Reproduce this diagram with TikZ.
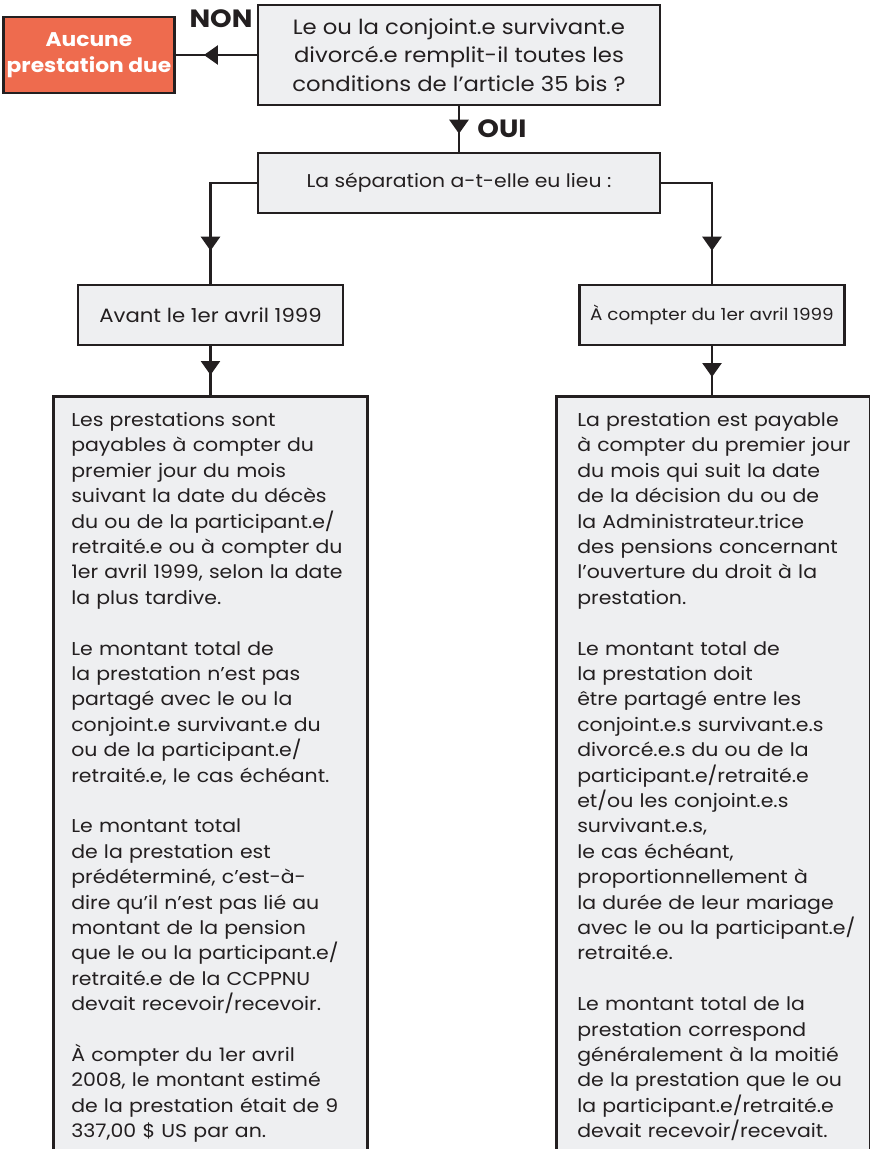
\documentclass[tikz,border=0pt]{standalone}
\usepackage{fontspec}
\setmainfont{Poppins}[FakeStretch=1.1]
\usepackage{tikz}
\usetikzlibrary{shapes.geometric, arrows.meta, decorations.markings}

\definecolor{boxgray}{HTML}{EEEFF1}
\definecolor{boxline}{HTML}{231F20}
\definecolor{nored}{HTML}{EE6B4E}

\tikzstyle{question} = [rectangle, minimum width=402pt, minimum height=100pt, align=center, draw=boxline, fill=boxgray, line width=2.6pt, text=boxline, font=\fontsize{20.7}{28.3}\selectfont]
\tikzstyle{choice} = [rectangle, minimum width=265pt, minimum height=60pt, align=center, draw=boxline, fill=boxgray, line width=2.6pt, text=boxline, font=\fontsize{19.3}{24}\selectfont]
\tikzstyle{result} = [rectangle, minimum width=170pt, minimum height=76pt, align=center, draw=boxline, fill=nored, line width=2.6pt, text=white, font=\fontsize{19.8}{26}\selectfont\bfseries]
\tikzstyle{answer} = [text=boxline, font=\fontsize{25}{25}\selectfont\bfseries]

\tikzset{
  detail/.style={
    rectangle,
    anchor=north west,
    text width=314pt,
    inner xsep=0pt,
    inner ysep=16pt,
    align=left,
    draw=boxline,
    fill=boxgray,
    line width=2.6pt,
    text=boxline,
    font=\fontsize{18.6}{25.4}\selectfont
    },
  arrow/.style={line width=2.6pt, draw=boxline},
  midarrow/.style={
    postaction=decorate,
    decoration={markings,
      mark=at position #1 with {\arrow{Triangle[width=19pt,length=14pt]}}}
    },
}

\begin{document}
\begin{tikzpicture}[x=1pt, y=-1pt]
\useasboundingbox (0,0) rectangle (870,1149);
\clip (0,0) rectangle (870,1149);

\node (cond) [question] at (459,55) {Le ou la conjoint.e survivant.e\\divorcé.e remplit-il toutes les\\conditions de l’article 35 bis ?};
\node (none) [result] at (89,55) {Aucune\\prestation due};
\node (non) [answer] at (221,19) {NON};
\node (sep) [choice, minimum width=402pt, font=\fontsize{18.5}{24}\selectfont] at (459,183) {La séparation a-t-elle eu lieu :};
\node (oui) [answer] at (502,129) {OUI};
\node (before) [choice] at (210.5,315) {Avant le 1er avril 1999};
\node (after) [choice, font=\fontsize{16.7}{22}\selectfont] at (712,315) {À compter du 1er avril 1999};

\node (left) [detail] at (52,395) {\leftskip=18pt
Les prestations sont\\payables à compter du\\premier jour du mois\\suivant la date du décès\\du ou de la participant.e/\\retraité.e ou à compter du\\1er avril 1999, selon la date\\la plus tardive.\\[25.4pt]
Le montant total de\\la prestation n’est pas\\partagé avec le ou la\\conjoint.e survivant.e du\\ou de la participant.e/\\retraité.e, le cas échéant.\\[25.4pt]
Le montant total\\de la prestation est\\prédéterminé, c’est-à-\\dire qu’il n’est pas lié au\\montant de la pension\\que le ou la participant.e/\\retraité.e de la CCPPNU\\devait recevoir/recevoir.\\[25.4pt]
À compter du 1er avril\\2008, le montant estimé\\de la prestation était de 9\\337,00 \$ US par an.\par};

\node (right) [detail] at (555,395) {\leftskip=21pt
La prestation est payable\\à compter du premier jour\\du mois qui suit la date\\de la décision du ou de\\la Administrateur.trice\\des pensions concernant\\l’ouverture du droit à la\\prestation.\\[25.4pt]
Le montant total de\\la prestation doit\\être partagé entre les\\conjoint.e.s survivant.e.s\\divorcé.e.s du ou de la\\participant.e/retraité.e\\et/ou les conjoint.e.s\\survivant.e.s,\\le cas échéant,\\proportionnellement à\\la durée de leur mariage\\avec le ou la participant.e/\\retraité.e.\\[25.4pt]
Le montant total de la\\prestation correspond\\généralement à la moitié\\de la prestation que le ou\\la participant.e/retraité.e\\devait recevoir/recevait.\par};

\draw [arrow, midarrow=-28pt] (cond.west) -- (none.east);
\draw [arrow, midarrow=-18pt] (cond.south) -- (sep.north);
\draw [arrow, midarrow=-33pt] (sep.west) -| (before.north);
\draw [arrow, midarrow=-33pt] (sep.east) -| (after.north);
\draw [arrow, midarrow=-20pt] (before.south) -- (before.south |- left.north);
\draw [arrow, midarrow=-18pt] (after.south) -- (after.south |- right.north);

\end{tikzpicture}
\end{document}
